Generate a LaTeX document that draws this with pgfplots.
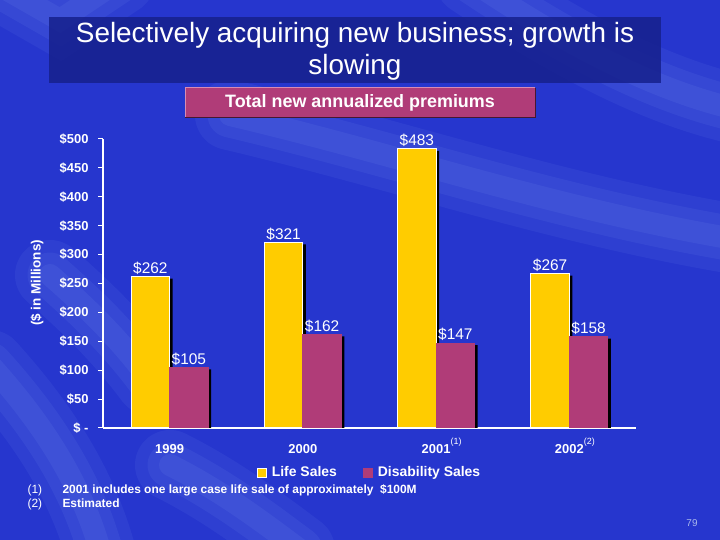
\documentclass[border=0pt]{standalone}
\usepackage{pgfplots}
\pgfplotsset{compat=1.18}
\usepackage{fontspec}
\setmainfont{Liberation Sans}
\definecolor{bgblue}{RGB}{38,54,206}
\definecolor{streak}{RGB}{130,160,240}
\definecolor{titlebox}{RGB}{22,32,140}
\definecolor{mag}{RGB}{176,60,120}
\definecolor{magedge}{RGB}{215,140,180}
\definecolor{gold}{RGB}{255,204,0}
\definecolor{pagenum}{RGB}{170,185,235}
\begin{document}
\begin{tikzpicture}[x=1bp,y=1bp]
\useasboundingbox (0,0) rectangle (720,540);
% background
\fill[bgblue] (0,0) rectangle (720,540);
\begin{scope}
\clip (0,0) rectangle (720,540);
\begin{scope}[streak,line cap=round]
\foreach \w/\o in {70/0.09,45/0.10,22/0.11}{
  \draw[line width=\w bp,opacity=\o] (230,425) .. controls (400,385) and (560,330) .. (740,300);
  \draw[line width=\w bp,opacity=\o] (470,560) .. controls (560,500) and (650,450) .. (740,430);
  \draw[line width=\w bp,opacity=\o] (-10,560) -- (60,520) -- (120,560);
  \draw[line width=\w bp,opacity=\o] (-10,175) .. controls (40,120) and (80,60) .. (100,-10);
  \draw[line width=\w bp,opacity=\o] (50,265) .. controls (90,230) and (120,200) .. (150,160);
  \draw[line width=\w bp,opacity=\o] (170,75) .. controls (220,50) and (260,20) .. (300,-10);
}
\end{scope}
\end{scope}
% title
\fill[titlebox,opacity=0.85] (49,457) rectangle (661,523);
\node[white,font=\fontsize{28}{32}\selectfont,align=center] at (355,488.5) {Selectively acquiring new business; growth is\\slowing};
% subtitle
\fill[mag] (185,422) rectangle (535,452);
\draw[magedge,line width=1bp] (185,422) -- (185,452) -- (535,452);
\draw[black!60!mag,line width=1bp] (185,422) -- (535,422) -- (535,452);
\node[white,font=\bfseries\fontsize{18}{20}\selectfont] at (360,437) {Total new annualized premiums};
% y label
\node[white,rotate=90,font=\bfseries\fontsize{13.5}{15}\selectfont] at (37,257) {(\$ in Millions)};
% footnotes
\node[white,anchor=base west,font=\fontsize{12}{14}\selectfont] at (24,46) {(1)};
\node[white,anchor=base west,font=\bfseries\fontsize{12}{14}\selectfont] at (59,46) {2001 includes one large case life sale of approximately\ \ \$100M};
\node[white,anchor=base west,font=\fontsize{12}{14}\selectfont] at (24,32) {(2)};
\node[white,anchor=base west,font=\bfseries\fontsize{12}{14}\selectfont] at (59,32) {Estimated};
\node[pagenum,font=\fontsize{10}{12}\selectfont] at (692,17) {79};
\begin{axis}[
  at={(103bp,112bp)}, anchor=south west,
  scale only axis, width=533bp, height=289bp,
  xmin=-0.5, xmax=3.5, ymin=0, ymax=500,
  axis x line*=bottom, axis y line*=left,
  axis line style={white,line width=1.2bp,-},
  ybar, bar width=38.5bp,
  /pgf/number format/assume math mode=true,
  xtick={0,1,2,3},
  xticklabels={1999,2000,{2001\rlap{\smash{\raisebox{9bp}{\mdseries\fontsize{9}{9}\selectfont(1)}}}},{2002\rlap{\smash{\raisebox{9bp}{\mdseries\fontsize{9}{9}\selectfont(2)}}}}},
  xtick style={draw=none},
  minor xtick={-0.5,0.5,1.5,2.5,3.5},
  minor tick length=5bp,
  minor x tick style={white,line width=1bp},
  ytick={0,50,...,500},
  yticklabels={\$ -,\$50,\$100,\$150,\$200,\$250,\$300,\$350,\$400,\$450,\$500},
  major tick length=5bp,
  tick align=outside,
  y tick style={white,line width=1bp},
  tick label style={white,font=\bfseries\fontsize{13}{15}\selectfont},
  yticklabel style={xshift=-6bp},
  xticklabel style={yshift=-8bp},
  legend style={at={(0.5,-0.152)},anchor=center,draw=none,fill=none,text=white,
    font=\bfseries\fontsize{14}{16}\selectfont,legend columns=2,
    /tikz/every even column/.append style={column sep=24bp}},
  legend image code/.code={\draw[#1] (0bp,-5.5bp) rectangle (9bp,3.5bp); \path (12bp,0bp);},
  every node near coord/.append style={white,font=\fontsize{15.5}{17}\selectfont,inner sep=1.5bp},
]
\addplot[fill=black,draw=none,bar shift=-19.25bp,xshift=3bp,yshift=-2bp,forget plot]
  coordinates {(0,262) (1,321) (2,483) (3,267)};
\addplot[fill=black,draw=none,bar shift=19.25bp,xshift=3bp,yshift=-2bp,forget plot]
  coordinates {(0,105) (1,162) (2,147) (3,158)};
\addplot[fill=gold,draw=white,line width=1bp,bar shift=-19.25bp,
  nodes near coords={\$\pgfmathprintnumber{\pgfplotspointmeta}}]
  coordinates {(0,262) (1,321) (2,483) (3,267)};
\addlegendentry{Life Sales}
\addplot[fill=mag,draw=mag,line width=1bp,bar shift=19.25bp,
  nodes near coords={\$\pgfmathprintnumber{\pgfplotspointmeta}}]
  coordinates {(0,105) (1,162) (2,147) (3,158)};
\addlegendentry{Disability Sales}
\end{axis}
\end{tikzpicture}
\end{document}
